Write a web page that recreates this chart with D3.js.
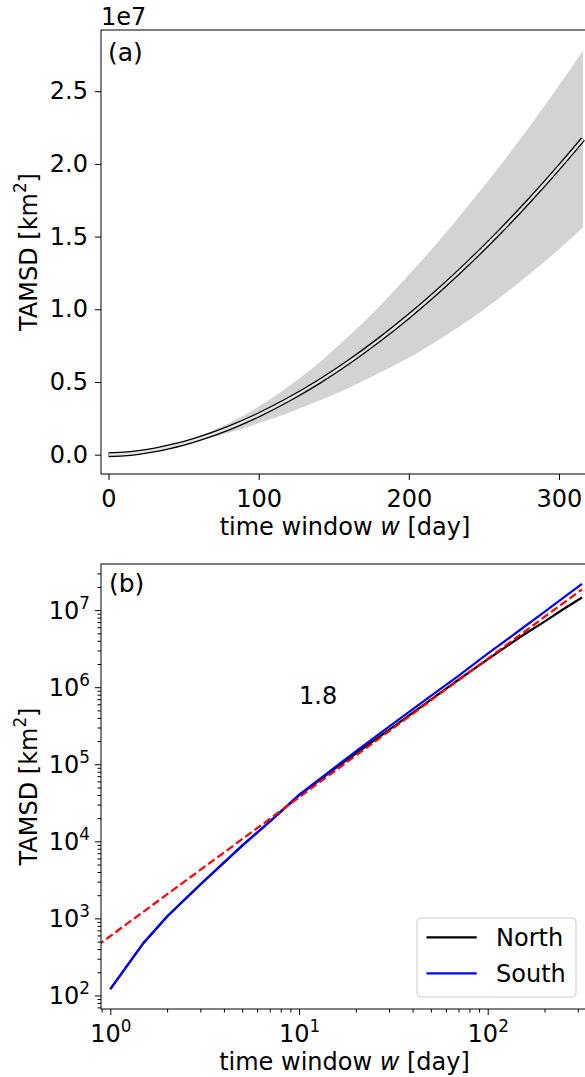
<!DOCTYPE html>
<html>
<head>
<meta charset="utf-8">
<script src="https://cdn.jsdelivr.net/npm/d3@7"></script>
<style>
body { margin: 0; background: #fff; }
svg { display: block; }
text { font-family: "DejaVu Sans", sans-serif; fill: #000; }
</style>
</head>
<body>
<svg id="fig" width="585" height="1077"></svg>
<script>
// panel (a): mean TAMSD and its spread
const wA = [0, 10, 20, 30, 40, 50, 60, 80, 100, 120, 140, 160, 180, 200, 220, 240, 260, 280, 300, 316];
const meanA = [0, 4.34e4, 1.51e5, 3.13e5, 5.26e5, 7.82e5, 1.089e6, 1.83e6, 2.735e6, 3.80e6, 5.01e6, 6.37e6, 7.88e6, 9.52e6, 1.130e7, 1.322e7, 1.527e7, 1.745e7, 1.976e7, 2.17e7];
const lowA = [0, 4.17e4, 1.42e5, 2.88e5, 4.73e5, 6.88e5, 9.37e5, 1.501e6, 2.161e6, 2.888e6, 3.707e6, 4.586e6, 5.595e6, 6.664e6, 7.91e6, 9.254e6, 1.0765e7, 1.239e7, 1.4128e7, 1.5624e7];
const highA = [0, 4.51e4, 1.60e5, 3.38e5, 5.79e5, 8.76e5, 1.241e6, 2.159e6, 3.309e6, 4.712e6, 6.313e6, 8.154e6, 1.0165e7, 1.2376e7, 1.469e7, 1.7186e7, 1.9775e7, 2.2511e7, 2.5392e7, 2.7776e7];
const xTicksA = [0, 100, 200, 300];
const yTicksA = [0, 0.5e7, 1e7, 1.5e7, 2e7, 2.5e7];

// panel (b): log-log TAMSD, north vs south
const wB = [1, 1.5, 2, 3, 5, 7, 10, 15, 20, 30, 50, 70, 100, 150, 200, 250, 316];
const north = [121, 480, 1060, 2750, 8800, 18000, 39500, 83000, 138000, 280000, 690000, 1.25e6, 2.3e6, 4.55e6, 7.1e6, 1.02e7, 1.46e7];
const south = [121, 480, 1060, 2750, 8800, 18100, 40000, 86000, 147000, 308000, 770000, 1.40e6, 2.72e6, 5.65e6, 9.5e6, 1.43e7, 2.2e7];
const fitW = [0.85, 316];
const fitV = [440, 1.86e7];
const fitLabel = "1.8";
const seriesNames = ["North", "South"];
const seriesColors = ["#000000", "#0000ff"];
const xTicksB = [1, 10, 100];
const yTicksB = [1e2, 1e3, 1e4, 1e5, 1e6, 1e7];

const FS = 24;
const svg = d3.select("#fig");

// ---------- panel (a) ----------
const A = {left: 101, right: 589, top: 30, bottom: 474};
const xA = d3.scaleLinear().domain([-5, 320]).range([A.left, A.right]);
const yA = d3.scaleLinear().domain([-0.133e7, 2.921e7]).range([A.bottom, A.top]);

svg.append("clipPath").attr("id", "clipA").append("rect")
  .attr("x", A.left).attr("y", A.top).attr("width", A.right - A.left).attr("height", A.bottom - A.top);

const gA = svg.append("g").attr("clip-path", "url(#clipA)");
const band = d3.area().x((d, i) => xA(wA[i])).y0((d, i) => yA(lowA[i])).y1((d, i) => yA(highA[i]))
  .curve(d3.curveMonotoneX);
gA.append("path").datum(wA).attr("d", band).attr("fill", "#d3d3d3");

const meanLine = d3.line().x((d, i) => xA(wA[i])).y(d => yA(d)).curve(d3.curveMonotoneX);
gA.append("path").datum(meanA).attr("d", meanLine)
  .attr("fill", "none").attr("stroke", "#000").attr("stroke-width", 5);
gA.append("path").datum(meanA).attr("d", meanLine)
  .attr("fill", "none").attr("stroke", "#e4e4e4").attr("stroke-width", 2.4);

function styleAxis(g) {
  g.selectAll(".domain").remove();
  g.selectAll("line").attr("stroke", "#000").attr("stroke-width", 1);
  g.selectAll("text").attr("font-size", FS).attr("font-family", "DejaVu Sans").attr("fill", "#000");
}

svg.append("g").attr("transform", `translate(0,${A.bottom})`)
  .call(d3.axisBottom(xA).tickValues(xTicksA).tickSize(6).tickPadding(10).tickFormat(d3.format("d")))
  .call(styleAxis);
svg.append("g").attr("transform", `translate(${A.left},0)`)
  .call(d3.axisLeft(yA).tickValues(yTicksA).tickSize(6).tickPadding(7).tickFormat(d => (d / 1e7).toFixed(1)))
  .call(styleAxis);

svg.append("rect").attr("x", A.left).attr("y", A.top)
  .attr("width", A.right - A.left).attr("height", A.bottom - A.top)
  .attr("fill", "none").attr("stroke", "#000").attr("stroke-width", 1);

svg.append("text").attr("x", A.left).attr("y", 25).attr("font-size", FS).text("1e7");
svg.append("text").attr("x", 108).attr("y", 61).attr("font-size", FS + 1).text("(a)");

function xLabel(x, y) {
  const t = svg.append("text").attr("x", x).attr("y", y).attr("font-size", FS).attr("text-anchor", "middle");
  t.append("tspan").text("time window ");
  t.append("tspan").attr("font-style", "italic").text("w");
  t.append("tspan").text(" [day]");
}
function yLabel(x, y) {
  const t = svg.append("text").attr("transform", `translate(${x},${y}) rotate(-90)`)
    .attr("font-size", FS).attr("text-anchor", "middle");
  t.append("tspan").text("TAMSD [km");
  t.append("tspan").attr("font-size", FS * 0.7).attr("dy", -FS * 0.42).text("2");
  t.append("tspan").attr("dy", FS * 0.42).text("]");
}
xLabel((A.left + A.right) / 2, 535);
yLabel(36.5, (A.top + A.bottom) / 2);

// ---------- panel (b) ----------
const B = {left: 101, right: 588, top: 564, bottom: 1009};
const xB = d3.scaleLog().domain([0.8927, 340]).range([B.left, B.right]);
const yB = d3.scaleLog().domain([66.7, 3.97e7]).range([B.bottom, B.top]);

svg.append("clipPath").attr("id", "clipB").append("rect")
  .attr("x", B.left).attr("y", B.top).attr("width", B.right - B.left).attr("height", B.bottom - B.top);
const gB = svg.append("g").attr("clip-path", "url(#clipB)");

const lineB = d3.line().x(d => xB(d[0])).y(d => yB(d[1]));
[north, south].forEach((s, k) => {
  gB.append("path").datum(wB.map((w, i) => [w, s[i]])).attr("d", lineB)
    .attr("fill", "none").attr("stroke", seriesColors[k]).attr("stroke-width", 2.2);
});
gB.append("path").datum(fitW.map((w, i) => [w, fitV[i]])).attr("d", lineB)
  .attr("fill", "none").attr("stroke", "#ff0000").attr("stroke-width", 2.2)
  .attr("stroke-dasharray", "8,3.5");

function minors(lo, hi) {
  const out = [];
  for (let e = Math.floor(Math.log10(lo)); e <= Math.ceil(Math.log10(hi)); e++) {
    for (let m = 2; m <= 9; m++) {
      const v = m * Math.pow(10, e);
      if (v >= lo && v <= hi) out.push(v);
    }
  }
  return out;
}

svg.append("g").attr("transform", `translate(0,${B.bottom})`)
  .call(d3.axisBottom(xB).tickValues(minors(0.8927, 340)).tickSize(3.5).tickFormat(""))
  .call(styleAxis);
svg.append("g").attr("transform", `translate(${B.left},0)`)
  .call(d3.axisLeft(yB).tickValues(minors(66.7, 3.97e7)).tickSize(3.5).tickFormat(""))
  .call(styleAxis);

const gxB = svg.append("g").attr("transform", `translate(0,${B.bottom})`)
  .call(d3.axisBottom(xB).tickValues(xTicksB).tickSize(6).tickFormat(""))
  .call(styleAxis);
gxB.selectAll(".tick").each(function (d) {
  const t = d3.select(this).append("text").attr("y", 33).attr("font-size", FS).attr("text-anchor", "middle");
  t.append("tspan").text("10");
  t.append("tspan").attr("font-size", FS * 0.7).attr("dy", -FS * 0.42).text(Math.round(Math.log10(d)));
});
const gyB = svg.append("g").attr("transform", `translate(${B.left},0)`)
  .call(d3.axisLeft(yB).tickValues(yTicksB).tickSize(6).tickFormat(""))
  .call(styleAxis);
gyB.selectAll(".tick").each(function (d) {
  const t = d3.select(this).append("text").attr("x", -11).attr("y", 8.5).attr("font-size", FS).attr("text-anchor", "end");
  t.append("tspan").text("10");
  t.append("tspan").attr("font-size", FS * 0.7).attr("dy", -FS * 0.42).text(Math.round(Math.log10(d)));
});

svg.append("rect").attr("x", B.left).attr("y", B.top)
  .attr("width", B.right - B.left).attr("height", B.bottom - B.top)
  .attr("fill", "none").attr("stroke", "#000").attr("stroke-width", 1);

svg.append("text").attr("x", 109).attr("y", 592).attr("font-size", FS + 1).text("(b)");
svg.append("text").attr("x", xB(10)).attr("y", yB(6e5)).attr("font-size", FS).text(fitLabel);

xLabel((B.left + B.right) / 2, 1070);
yLabel(36.5, (B.top + B.bottom) / 2);

// legend
const lg = svg.append("g");
lg.append("rect").attr("x", 417).attr("y", 918).attr("width", 159).attr("height", 79)
  .attr("rx", 4).attr("fill", "#fff").attr("fill-opacity", 0.8).attr("stroke", "#cccccc").attr("stroke-width", 1);
seriesNames.forEach((n, k) => {
  const y = 937.3 + k * 36;
  lg.append("line").attr("x1", 426.5).attr("x2", 476.7).attr("y1", y).attr("y2", y)
    .attr("stroke", seriesColors[k]).attr("stroke-width", 2.2);
  lg.append("text").attr("x", 496).attr("y", y + 8.3).attr("font-size", FS).text(n);
});
</script>
</body>
</html>
